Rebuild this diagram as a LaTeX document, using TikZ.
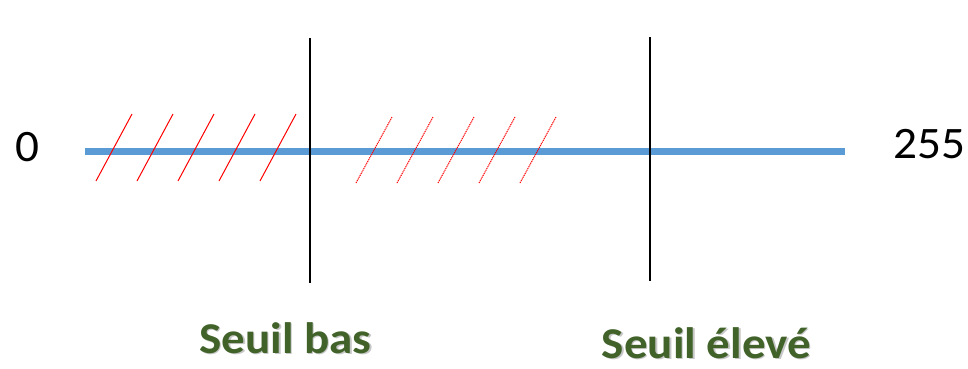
\documentclass[tikz,border=0pt]{standalone}
\usepackage{fontspec}
\setmainfont{Carlito}
\definecolor{axisblue}{HTML}{5B9BD5}
\definecolor{labelgreen}{HTML}{41632A}
\tikzset{
  axisline/.style={draw=axisblue, line width=7pt},
  seuil/.style={draw=black, line width=2.6pt},
  hatch/.style={draw=red, line width=1pt},
  hatchdot/.style={draw=red, line width=1pt, dash pattern=on 1.2pt off 0.8pt},
  numlabel/.style={font=\fontsize{45}{50}\selectfont, text=black, inner sep=0pt, anchor=base, xscale=1.05},
  seuillabel/.style={font=\fontsize{44}{50}\selectfont\bfseries, text=labelgreen, inner sep=0pt, anchor=base, xscale=1.07},
  seuilshadow/.style={font=\fontsize{44}{50}\selectfont\bfseries, text=black!22, inner sep=0pt, anchor=base, xscale=1.07}
}
\begin{document}
\begin{tikzpicture}[x=1pt,y=-1pt]
\useasboundingbox (0,0) rectangle (968,368);
% axis
\coordinate (a0) at (85,151);
\coordinate (a1) at (845,151);
\draw[axisline] (a0) -- (a1);
% hatches solid
\foreach \i in {0,...,4} {
  \coordinate (hb\i) at ({96+41*\i},181);
  \coordinate (ht\i) at ({132+41*\i},114);
  \draw[hatch] (hb\i) -- (ht\i);
}
% hatches dotted
\foreach \i in {0,...,4} {
  \coordinate (db\i) at ({356+41*\i},183);
  \coordinate (dt\i) at ({392+41*\i},117);
  \draw[hatchdot] (db\i) -- (dt\i);
}
% thresholds
\coordinate (s1t) at (310,38);
\coordinate (s1b) at (310,283);
\coordinate (s2t) at (650,37);
\coordinate (s2b) at (650,281);
\draw[seuil] (s1t) -- (s1b);
\draw[seuil] (s2t) -- (s2b);
% labels
\node[numlabel] (zero) at (27,161) {0};
\node[numlabel] (max) at (929.5,158) {255};
\node[seuilshadow] (basshadow) at (287,354.5) {Seuil bas};
\node[seuillabel] (bas) at (285.5,353) {Seuil bas};
\node[seuilshadow] (hautshadow) at (708,359.5) {Seuil élevé};
\node[seuillabel] (haut) at (706.5,358) {Seuil élevé};
\end{tikzpicture}
\end{document}
